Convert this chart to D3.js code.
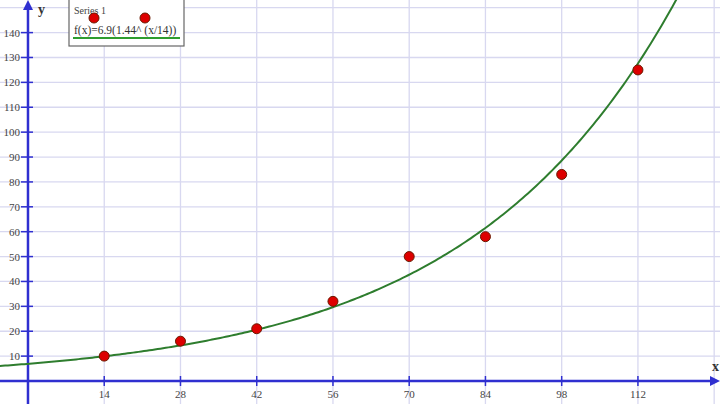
<!DOCTYPE html>
<html>
  <head>
    <meta charset="UTF-8" />
    <style>
      body { margin: 0; background: #fff; }
      svg { display: block; font-family: "Liberation Serif", "DejaVu Serif", serif; }
    </style>
  </head>
  <body>
    <svg></svg>
    <script src="https://d3js.org/d3.v7.min.js"></script>
    <script>
      let width = 720,
        height = 404;

      // data
      var xValues = [14, 28, 42, 56, 70, 84, 98, 112];
      var yValues = [10, 16, 21, 32, 50, 58, 83, 125];
      var xTicks = [14, 28, 42, 56, 70, 84, 98, 112];
      var xGrid = [14, 28, 42, 56, 70, 84, 98, 112, 126];
      var yTicks = [10, 20, 30, 40, 50, 60, 70, 80, 90, 100, 110, 120, 130, 140];
      var yGrid = [10, 20, 30, 40, 50, 60, 70, 80, 90, 100, 110, 120, 130, 140, 150];
      var seriesName = "Series 1";
      var fitLabel = "f(x)=6.9(1.44^ (x/14))";
      var fitA = 6.9, fitB = 1.44, fitStep = 14;

      let svg = d3.select("svg").attr("width", width).attr("height", height);

      var x = d3.scaleLinear().domain([-5.14, 127.07]).range([0, width]);
      var y = d3.scaleLinear().domain([-9.24, 153.1]).range([height, 0]);

      // grid
      svg.append("g")
        .selectAll("line")
        .data(xGrid)
        .enter()
        .append("line")
        .attr("x1", (d) => x(d)).attr("x2", (d) => x(d))
        .attr("y1", 0).attr("y2", height)
        .attr("stroke", "#d8d8f0").attr("stroke-width", 1.3);
      svg.append("g")
        .selectAll("line")
        .data(yGrid)
        .enter()
        .append("line")
        .attr("x1", 0).attr("x2", width)
        .attr("y1", (d) => y(d)).attr("y2", (d) => y(d))
        .attr("stroke", "#d8d8f0").attr("stroke-width", 1.3);

      // axes
      var axisColor = "#2f2fd0";
      svg.append("line")
        .attr("x1", 0).attr("x2", width - 8)
        .attr("y1", y(0)).attr("y2", y(0))
        .attr("stroke", axisColor).attr("stroke-width", 2.5);
      svg.append("path")
        .attr("d", "M" + width + "," + y(0) + "l-10,-5l0,10z")
        .attr("fill", axisColor);
      svg.append("line")
        .attr("x1", x(0)).attr("x2", x(0))
        .attr("y1", 8).attr("y2", height)
        .attr("stroke", axisColor).attr("stroke-width", 2.5);
      svg.append("path")
        .attr("d", "M" + x(0) + ",0l-5,10l10,0z")
        .attr("fill", axisColor);

      // x ticks + labels
      var xt = svg.append("g").selectAll("g").data(xTicks).enter().append("g");
      xt.append("line")
        .attr("x1", (d) => x(d)).attr("x2", (d) => x(d))
        .attr("y1", y(0) - 5).attr("y2", y(0) + 5)
        .attr("stroke", axisColor).attr("stroke-width", 1.5);
      xt.append("text")
        .attr("x", (d) => x(d)).attr("y", y(0) + 17)
        .attr("text-anchor", "middle")
        .attr("font-size", 11).attr("fill", "#444")
        .text((d) => d);

      // y ticks + labels
      var yt = svg.append("g").selectAll("g").data(yTicks).enter().append("g");
      yt.append("line")
        .attr("x1", x(0) - 7).attr("x2", x(0) + 5)
        .attr("y1", (d) => y(d)).attr("y2", (d) => y(d))
        .attr("stroke", axisColor).attr("stroke-width", 1.5);
      yt.append("text")
        .attr("x", x(0) - 8).attr("y", (d) => y(d) + 4)
        .attr("text-anchor", "end")
        .attr("font-size", 11).attr("fill", "#444")
        .text((d) => d);

      svg.append("text")
        .attr("x", width - 8).attr("y", y(0) - 10)
        .attr("font-size", 14).attr("font-weight", "bold").attr("fill", "#333")
        .text("x");
      svg.append("text")
        .attr("x", x(0) + 10).attr("y", 14)
        .attr("font-size", 14).attr("font-weight", "bold").attr("fill", "#333")
        .text("y");

      // fitted curve
      var line = d3.line()
        .x((d) => x(d))
        .y((d) => y(fitA * Math.pow(fitB, d / fitStep)));
      var curveXs = d3.range(-5.2, 121, 0.5);
      svg.append("path")
        .datum(curveXs)
        .attr("d", line)
        .attr("fill", "none")
        .attr("stroke", "#2e7d2e")
        .attr("stroke-width", 2);

      // points
      svg.append("g")
        .selectAll("circle")
        .data(xValues)
        .enter()
        .append("circle")
        .attr("cx", (d) => x(d))
        .attr("cy", (d, i) => y(yValues[i]))
        .attr("r", 5)
        .attr("fill", "#dd0000")
        .attr("stroke", "#6a1a00")
        .attr("stroke-width", 1);

      // legend
      var lg = svg.append("g");
      lg.append("rect")
        .attr("x", 69).attr("y", -2).attr("width", 115).attr("height", 48)
        .attr("fill", "#fff").attr("stroke", "#666").attr("stroke-width", 1.2);
      lg.append("text")
        .attr("x", 74).attr("y", 14)
        .attr("font-size", 10).attr("fill", "#444")
        .text(seriesName);
      lg.selectAll("circle")
        .data([94, 145])
        .enter()
        .append("circle")
        .attr("cx", (d) => d).attr("cy", 18).attr("r", 5)
        .attr("fill", "#dd0000").attr("stroke", "#6a1a00").attr("stroke-width", 1);
      lg.append("text")
        .attr("x", 74).attr("y", 34)
        .attr("font-size", 11.5).attr("fill", "#333")
        .text(fitLabel);
      lg.append("line")
        .attr("x1", 73).attr("x2", 180).attr("y1", 38).attr("y2", 38)
        .attr("stroke", "#2e9d2e").attr("stroke-width", 2);
    </script>
  </body>
</html>
